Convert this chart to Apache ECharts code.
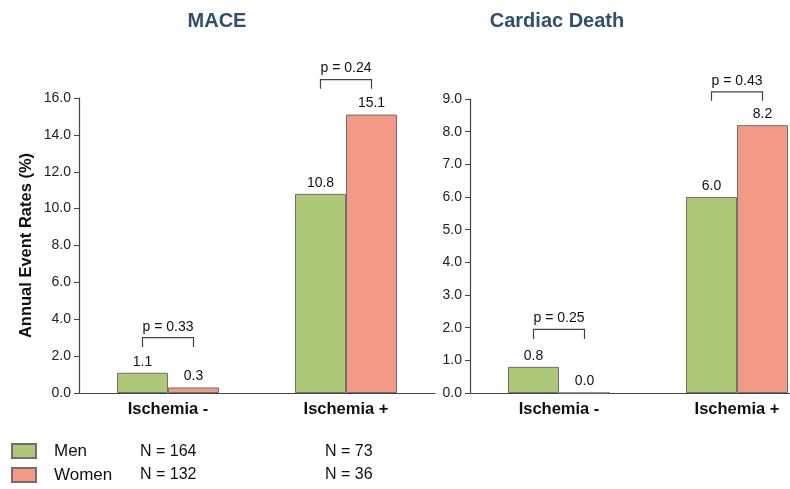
<!DOCTYPE html>
<html>
<head>
<meta charset="utf-8">
<script src="https://cdn.jsdelivr.net/npm/echarts@6/dist/echarts.min.js"></script>
<style>
  html, body { margin: 0; padding: 0; background: #fff; }
  #main { width: 790px; height: 489px; }
</style>
</head>
<body>
<div id="main"></div>
<script>
var categories = ['Ischemia -', 'Ischemia +'];
var maceMen = [1.1, 10.8];
var maceWomen = [0.3, 15.1];
var deathMen = [0.8, 6.0];
var deathWomen = [0.0, 8.2];
// p-value brackets: label, top of bracket, bottom of legs (axis units)
var maceP = ['p = 0.33', 'p = 0.24'];
var maceBracketTop = [3.0, 17.0];
var maceBracketLeg = [2.5, 16.5];
var deathP = ['p = 0.25', 'p = 0.43'];
var deathBracketTop = [1.95, 9.22];
var deathBracketLeg = [1.65, 8.95];
var nMen = [164, 73];
var nWomen = [132, 36];

var GREEN = '#adc977', PINK = '#f39a86', EDGE = '#6f6f6f', FONT = 'Liberation Sans, Arial, sans-serif';

var chart = echarts.init(document.getElementById('main'));

function bracketData(tops, legs, labels) {
    var out = [];
    for (var i = 0; i < tops.length; i++) out.push([i, tops[i], legs[i], labels[i]]);
    return out;
}

function renderBracket(params, api) {
    var i = api.value(0);
    var top = api.coord([i, api.value(1)]);
    var leg = api.coord([i, api.value(2)]);
    var band = api.size([1, 0])[0];
    var off = band * 0.1433;
    var x1 = top[0] - off, x2 = top[0] + off;
    return {
        type: 'group',
        children: [
            { type: 'polyline', shape: { points: [[x1, leg[1]], [x1, top[1]], [x2, top[1]], [x2, leg[1]]] },
              style: { stroke: '#444', lineWidth: 1.2, fill: null } },
            { type: 'text', style: { text: api.value(3), x: top[0], y: top[1] - 4, align: 'center', verticalAlign: 'bottom',
              font: '14px ' + FONT, fill: '#111' } }
        ]
    };
}

function barSeries(name, data, color, idx) {
    return {
        name: name, type: 'bar', xAxisIndex: idx, yAxisIndex: idx, data: data,
        barWidth: 51, barGap: '0%',
        itemStyle: { color: color, borderColor: EDGE, borderWidth: 1 },
        label: { show: true, position: 'top', distance: 4, fontFamily: FONT, fontSize: 14, color: '#111',
                 formatter: function (p) { return p.value.toFixed(1); } }
    };
}

function yAxis(idx, max, interval, name) {
    return {
        type: 'value', gridIndex: idx, min: 0, max: max, interval: interval,
        name: name, nameLocation: 'middle', nameGap: 44, nameRotate: 90,
        nameTextStyle: { fontFamily: FONT, fontWeight: 'bold', fontSize: 16.5, color: '#111' },
        axisLine: { show: true, lineStyle: { color: '#444', width: 1.2 } },
        axisTick: { show: true, length: 5, lineStyle: { color: '#444' } },
        axisLabel: { fontFamily: FONT, fontSize: 14, color: '#222', margin: 8,
                     formatter: function (v) { return v.toFixed(1); } },
        splitLine: { show: false }
    };
}

function xAxis(idx) {
    return {
        type: 'category', gridIndex: idx, data: categories,
        axisLine: { lineStyle: { color: '#444', width: 1.2 } },
        axisTick: { show: false },
        axisLabel: { fontFamily: FONT, fontSize: 16.5, fontWeight: 'bold', color: '#111', margin: 8 }
    };
}

var graphics = [];
var nCols = [140, 325];
for (var k = 0; k < nMen.length; k++) {
    graphics.push({ type: 'text', left: nCols[k], top: 444, style: { text: 'N = ' + nMen[k], font: '16px ' + FONT, fill: '#111' } });
    graphics.push({ type: 'text', left: nCols[k], top: 467, style: { text: 'N = ' + nWomen[k], font: '16px ' + FONT, fill: '#111' } });
}

chart.setOption({
    animation: false,
    title: [
        { text: 'MACE', left: 212, top: 6, textAlign: 'center',
          textStyle: { fontFamily: FONT, fontSize: 20, fontWeight: 'bold', color: '#30506f' } },
        { text: 'Cardiac Death', left: 552, top: 6, textAlign: 'center',
          textStyle: { fontFamily: FONT, fontSize: 20, fontWeight: 'bold', color: '#30506f' } }
    ],
    legend: {
        data: ['Men', 'Women'], orient: 'vertical', left: 11, top: 441, padding: 0,
        icon: 'rect', itemWidth: 24, itemHeight: 14, itemGap: 4,
        textStyle: { fontFamily: FONT, fontSize: 17, color: '#111', padding: [0, 0, 0, 13], lineHeight: 20 }
    },
    graphic: graphics,
    grid: [
        { left: 79, top: 98, width: 356, height: 295, outerBoundsMode: 'none' },
        { left: 470, top: 99, width: 356, height: 294, outerBoundsMode: 'none' }
    ],
    xAxis: [xAxis(0), xAxis(1)],
    yAxis: [yAxis(0, 16, 2, 'Annual Event Rates (%)'), yAxis(1, 9, 1, '')],
    series: [
        barSeries('Men', maceMen, GREEN, 0),
        barSeries('Women', maceWomen, PINK, 0),
        barSeries('Men', deathMen, GREEN, 1),
        barSeries('Women', deathWomen, PINK, 1),
        { type: 'custom', xAxisIndex: 0, yAxisIndex: 0, clip: false, silent: true,
          data: bracketData(maceBracketTop, maceBracketLeg, maceP), renderItem: renderBracket },
        { type: 'custom', xAxisIndex: 1, yAxisIndex: 1, clip: false, silent: true,
          data: bracketData(deathBracketTop, deathBracketLeg, deathP), renderItem: renderBracket }
    ]
});
</script>
</body>
</html>
